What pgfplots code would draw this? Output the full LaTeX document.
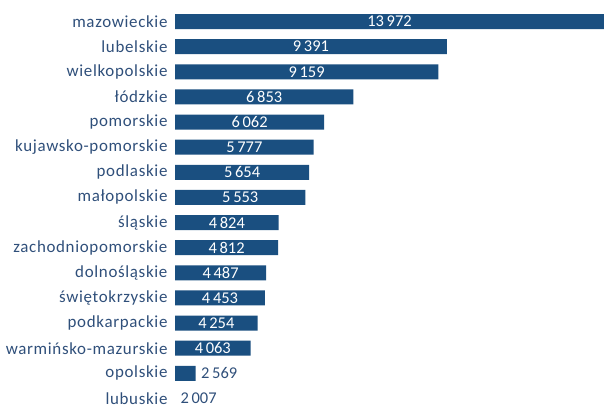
\documentclass[border=0pt]{standalone}
\usepackage{fontspec}
\setmainfont{Carlito}
\newfontfamily\lblfont[LetterSpace=4]{Carlito}
\usepackage{pgfplots}
\usepackage{pgfplotstable}
\pgfplotsset{compat=1.18}
\definecolor{barblue}{HTML}{1A4F80}
\definecolor{lblblue}{HTML}{2F4F7A}
\pgfplotstableread{
y v
0 13972
1 9391
2 9159
3 6853
4 6062
5 5777
6 5654
7 5553
8 4824
9 4812
10 4487
11 4453
12 4254
13 4063
14 2569
15 2007
}\data
\begin{document}
\begin{tikzpicture}
\useasboundingbox (0,0) rectangle (604bp,405bp);
\begin{axis}[
  at={(175bp,-6bp)}, anchor=south west,
  scale only axis, width=429bp, height=402bp,
  xmin=2010, xmax=13660,
  ymin=-0.5, ymax=15.5, y dir=reverse,
  axis line style={draw=none},
  tick style={draw=none},
  xtick=\empty,
  ytick={0,...,15},
  yticklabels={mazowieckie,lubelskie,wielkopolskie,łódzkie,pomorskie,kujawsko-pomorskie,podlaskie,małopolskie,śląskie,zachodniopomorskie,dolnośląskie,świętokrzyskie,podkarpackie,warmińsko-mazurskie,opolskie,lubuskie},
  yticklabel style={font=\lblfont\fontsize{17}{19}\selectfont, text=lblblue, xshift=-4bp},
  /pgf/number format/assume math mode=true,
  /pgf/number format/1000 sep={\,},
]
\addplot[xbar, bar width=15bp, fill=barblue, draw=none, restrict y to domain=0:14] table[x=v,y=y]{\data};
\addplot[draw=none, mark=none, nodes near coords, point meta=explicit,
  restrict y to domain=0:13,
  every node near coord/.append style={anchor=center, text=white, font=\fontsize{16.5}{19}\selectfont}]
  table[x expr={(min(\thisrow{v},13660)+2010)/2}, y=y, meta=v]{\data};
\addplot[draw=none, mark=none, nodes near coords, point meta=explicit,
  restrict y to domain=14:15,
  every node near coord/.append style={anchor=west, xshift=2bp, text=lblblue, font=\fontsize{16.5}{19}\selectfont}]
  table[x expr={max(\thisrow{v},2010)}, y=y, meta=v]{\data};
\end{axis}
\end{tikzpicture}
\end{document}
